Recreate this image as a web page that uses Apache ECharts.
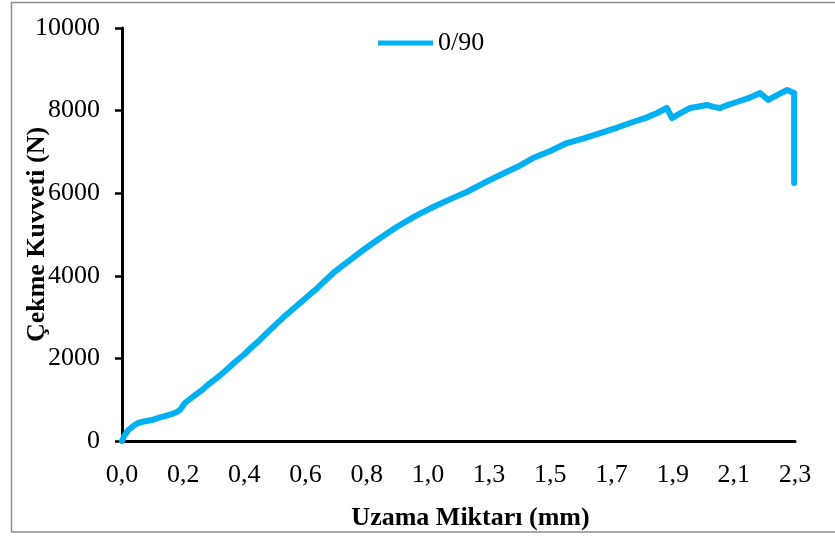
<!DOCTYPE html>
<html>
<head>
<meta charset="utf-8">
<script src="https://cdn.jsdelivr.net/npm/echarts@6/dist/echarts.min.js"></script>
<style>
  html, body { margin: 0; padding: 0; background: #fff; }
  #chart { width: 835px; height: 536px; }
</style>
</head>
<body>
<div id="chart"></div>
<script>
// elongation (mm) and tensile force (N)
const elongation = [0, 0.01, 0.022, 0.04, 0.055, 0.08, 0.102, 0.125, 0.147, 0.17, 0.188, 0.2, 0.216, 0.245,
  0.275, 0.3, 0.33, 0.36, 0.388, 0.42, 0.446, 0.475, 0.501, 0.555, 0.611, 0.67, 0.725, 0.78, 0.828,
  0.885, 0.943, 1.005, 1.068, 1.125, 1.183, 1.24, 1.298, 1.356, 1.411, 1.47, 1.527, 1.585, 1.641,
  1.7, 1.754, 1.8, 1.837, 1.87, 1.888, 1.92, 1.95, 1.98, 2.008, 2.03, 2.053, 2.08, 2.11, 2.15,
  2.19, 2.218, 2.25, 2.283, 2.307, 2.307]
const force = [0, 150, 266, 370, 436, 480, 508, 560, 605, 650, 702, 760, 920, 1080,
  1235, 1390, 1550, 1730, 1913, 2100, 2276, 2460, 2640, 3000, 3341, 3700, 4068, 4370, 4625,
  4910, 5182, 5440, 5666, 5850, 6029, 6240, 6441, 6634, 6852, 7020, 7215, 7330, 7457,
  7590, 7724, 7830, 7942, 8063, 7820, 7950, 8063, 8100, 8136, 8090, 8063, 8140, 8208, 8300,
  8426, 8257, 8380, 8499, 8426, 6247]

const xTickLabels = ['0,0', '0,2', '0,4', '0,6', '0,8', '1,0', '1,3', '1,5', '1,7', '1,9', '2,1', '2,3']
const xStep = 0.21

const font = 'Liberation Serif'

const chart = echarts.init(document.getElementById('chart'))
chart.setOption({
  animation: false,
  graphic: [{
    type: 'rect',
    shape: { x: 11.5, y: 2.5, width: 830, height: 529.5 },
    style: { fill: 'none', stroke: '#8c8c8c', lineWidth: 1.5 },
  }],
  legend: {
    data: ['0/90'],
    left: 373,
    top: 25,
    icon: 'rect',
    itemWidth: 55,
    itemHeight: 5,
    textStyle: { fontFamily: font, fontSize: 26, color: '#000' },
  },
  grid: { left: 122, right: 40, top: 28, bottom: 95, outerBoundsMode: 'none' },
  xAxis: {
    type: 'value',
    min: 0,
    max: xStep * 11,
    interval: xStep,
    name: 'Uzama Miktarı (mm)',
    nameLocation: 'middle',
    nameGap: 64,
    nameMoveOverlap: false,
    nameTextStyle: { fontFamily: font, fontSize: 26, fontWeight: 'bold', color: '#000', padding: [0, 0, 0, 24] },
    axisLine: { lineStyle: { color: '#000', width: 3 } },
    axisTick: { show: false },
    splitLine: { show: false },
    axisLabel: {
      fontFamily: font, fontSize: 26, color: '#000', margin: 21,
      formatter: v => xTickLabels[Math.round(v / xStep)],
    },
  },
  yAxis: {
    type: 'value',
    min: 0,
    max: 10000,
    interval: 2000,
    name: 'Çekme Kuvveti (N)',
    nameLocation: 'middle',
    nameGap: 72,
    nameMoveOverlap: false,
    nameTextStyle: { fontFamily: font, fontSize: 26, fontWeight: 'bold', color: '#000' },
    axisLine: { show: true, lineStyle: { color: '#000', width: 3 } },
    axisTick: { show: true, length: 7, lineStyle: { color: '#000', width: 2.5 } },
    splitLine: { show: false },
    axisLabel: { fontFamily: font, fontSize: 26, color: '#000', margin: 22, formatter: v => String(v) },
  },
  series: [{
    name: '0/90',
    type: 'line',
    data: elongation.map((x, i) => [x, force[i]]),
    showSymbol: false,
    color: '#00b0f0',
    lineStyle: { width: 6, cap: 'round', join: 'round' },
  }],
})
</script>
</body>
</html>
